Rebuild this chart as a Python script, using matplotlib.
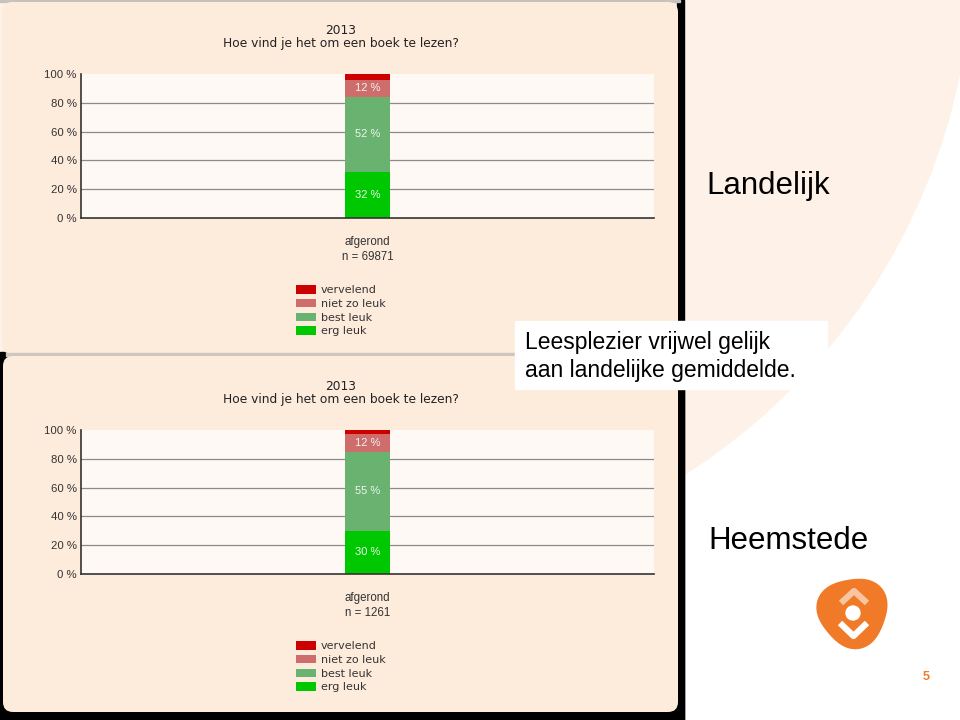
import matplotlib
matplotlib.use("Agg")
import matplotlib.pyplot as plt
import numpy as np
from matplotlib.patches import FancyBboxPatch, Rectangle, Circle, Polygon

# Survey answers, stacked bottom to top
categories = ["erg leuk", "best leuk", "niet zo leuk", "vervelend"]
colors = ["#00c800", "#69b26f", "#cf6d6d", "#cc0000"]
landelijk = [32, 52, 12, 4]
heemstede = [30, 55, 12, 3]
n_landelijk = 69871
n_heemstede = 1261
year = "2013"
question = "Hoe vind je het om een boek te lezen?"
yticks = [0, 20, 40, 60, 80, 100]
ytick_labels = ["0 %", "20 %", "40 %", "60 %", "80 %", "100 %"]

W, H = 960, 720
panel_color = "#fdebdc"
plot_color = "#fef9f5"
arial = "Liberation Sans"


def fx(x):
    return x / W


def fy(y):
    return 1 - y / H


fig = plt.figure(figsize=(9.6, 7.2), dpi=100)
fig.patch.set_facecolor("white")

# slide background, drawn in pixel coordinates
bg = fig.add_axes([0, 0, 1, 1])
bg.set_zorder(-1)
bg.set_xlim(0, W)
bg.set_ylim(H, 0)
bg.axis("off")

bg.add_patch(Circle((350, -50), 622, color="#fdf1e8", zorder=0))
bg.add_patch(Rectangle((0, 352), 684, 368, color="black", zorder=1))
bg.add_patch(Rectangle((677, 0), 7, 720, color="black", zorder=1))
bg.add_patch(Rectangle((0, 0), 680, 2, color="#c8c2bc", zorder=1))
bg.add_patch(FancyBboxPatch((2, 2), 676, 352, boxstyle="round,pad=0,rounding_size=10",
                            fc=panel_color, ec="none", zorder=2))
bg.add_patch(Rectangle((6, 353), 672, 3, color="#cfc6bd", zorder=2))
bg.add_patch(FancyBboxPatch((3, 356), 675, 356, boxstyle="round,pad=0,rounding_size=10",
                            fc=panel_color, ec="none", zorder=2))

# comment box and labels
bg.add_patch(Rectangle((515, 321), 312, 68, color="white", zorder=3))
bg.text(525, 349, "Leesplezier vrijwel gelijk", fontsize=16.5, family=arial, va="baseline", zorder=4)
bg.text(525, 377, "aan landelijke gemiddelde.", fontsize=16.5, family=arial, va="baseline", zorder=4)
bg.text(706, 194, "Landelijk", fontsize=22.5, family=arial, va="baseline", zorder=4)
bg.text(708, 549, "Heemstede", fontsize=22.5, family=arial, va="baseline", zorder=4)

# logo: rounded triangular blob with chevrons
orange = "#f07a28"
theta = np.linspace(0, 2 * np.pi, 200)
r = 35 * (1 + 0.07 * np.cos(3 * (theta + np.radians(40))))
blob = np.column_stack([853 + r * np.cos(theta), 612 + r * np.sin(theta)])
bg.add_patch(Polygon(blob, closed=True, fc=orange, ec="none", zorder=3))
bg.plot([841, 854, 867], [603, 591, 603], color="#f9c4a0", lw=4.5, solid_capstyle="butt", zorder=4)
bg.add_patch(Circle((853, 613), 7, color="white", zorder=4))
bg.plot([840, 853.5, 867], [623, 636, 623], color="white", lw=4.5, solid_capstyle="butt", zorder=4)
bg.text(926, 677, "5", fontsize=9, family=arial, weight="bold", color=orange,
        ha="center", va="center", zorder=4)


def draw_chart(top_px, values, n):
    ax = fig.add_axes([fx(81), fy(top_px + 144), 573 / W, 144 / H])
    ax.set_facecolor(plot_color)
    for t in yticks[1:-1]:
        ax.axhline(t, color="#8a8a8a", lw=0.9, zorder=0)

    bottom = 0
    for cat, val, col in zip(categories, values, colors):
        ax.bar(0, val, bottom=bottom, width=0.079, color=col, label=cat, zorder=2)
        if val >= 10:
            ax.text(0, bottom + val / 2, f"{val} %", ha="center", va="center",
                    fontsize=8, family=arial, color="#eef6ee", zorder=3)
        bottom += val

    ax.set_xlim(-0.5, 0.5)
    ax.set_ylim(0, 100)
    ax.set_yticks(yticks)
    ax.set_yticklabels(ytick_labels, family=arial, fontsize=8.2, color="#333333")
    ax.set_xticks([0])
    ax.set_xticklabels([f"afgerond\nn = {n}"], family=arial, fontsize=8.3,
                       color="#333333", linespacing=1.3)
    ax.tick_params(axis="y", length=0, pad=3)
    ax.tick_params(axis="x", length=0, pad=13)
    for s in ["top", "right"]:
        ax.spines[s].set_visible(False)
    for s in ["left", "bottom"]:
        ax.spines[s].set_color("#333333")
        ax.spines[s].set_linewidth(1.2)

    fig.text(fx(341), fy(top_px - 44), year, ha="center", va="center",
             fontsize=8.8, color="#222222")
    fig.text(fx(341), fy(top_px - 30), question, ha="center", va="center",
             fontsize=8.8, color="#222222")

    handles, labels = ax.get_legend_handles_labels()
    ax.legend(handles[::-1], labels[::-1], loc="upper left",
              bbox_to_anchor=(fx(296), fy(top_px + 211)), bbox_transform=fig.transFigure,
              frameon=False, prop={"size": 8}, labelcolor="#333333",
              handlelength=1.8, handleheight=0.8,
              labelspacing=0.33, handletextpad=0.45, borderpad=0, borderaxespad=0)
    return ax


draw_chart(74, landelijk, n_landelijk)
draw_chart(430, heemstede, n_heemstede)

fig.savefig("out.png", dpi=100)
